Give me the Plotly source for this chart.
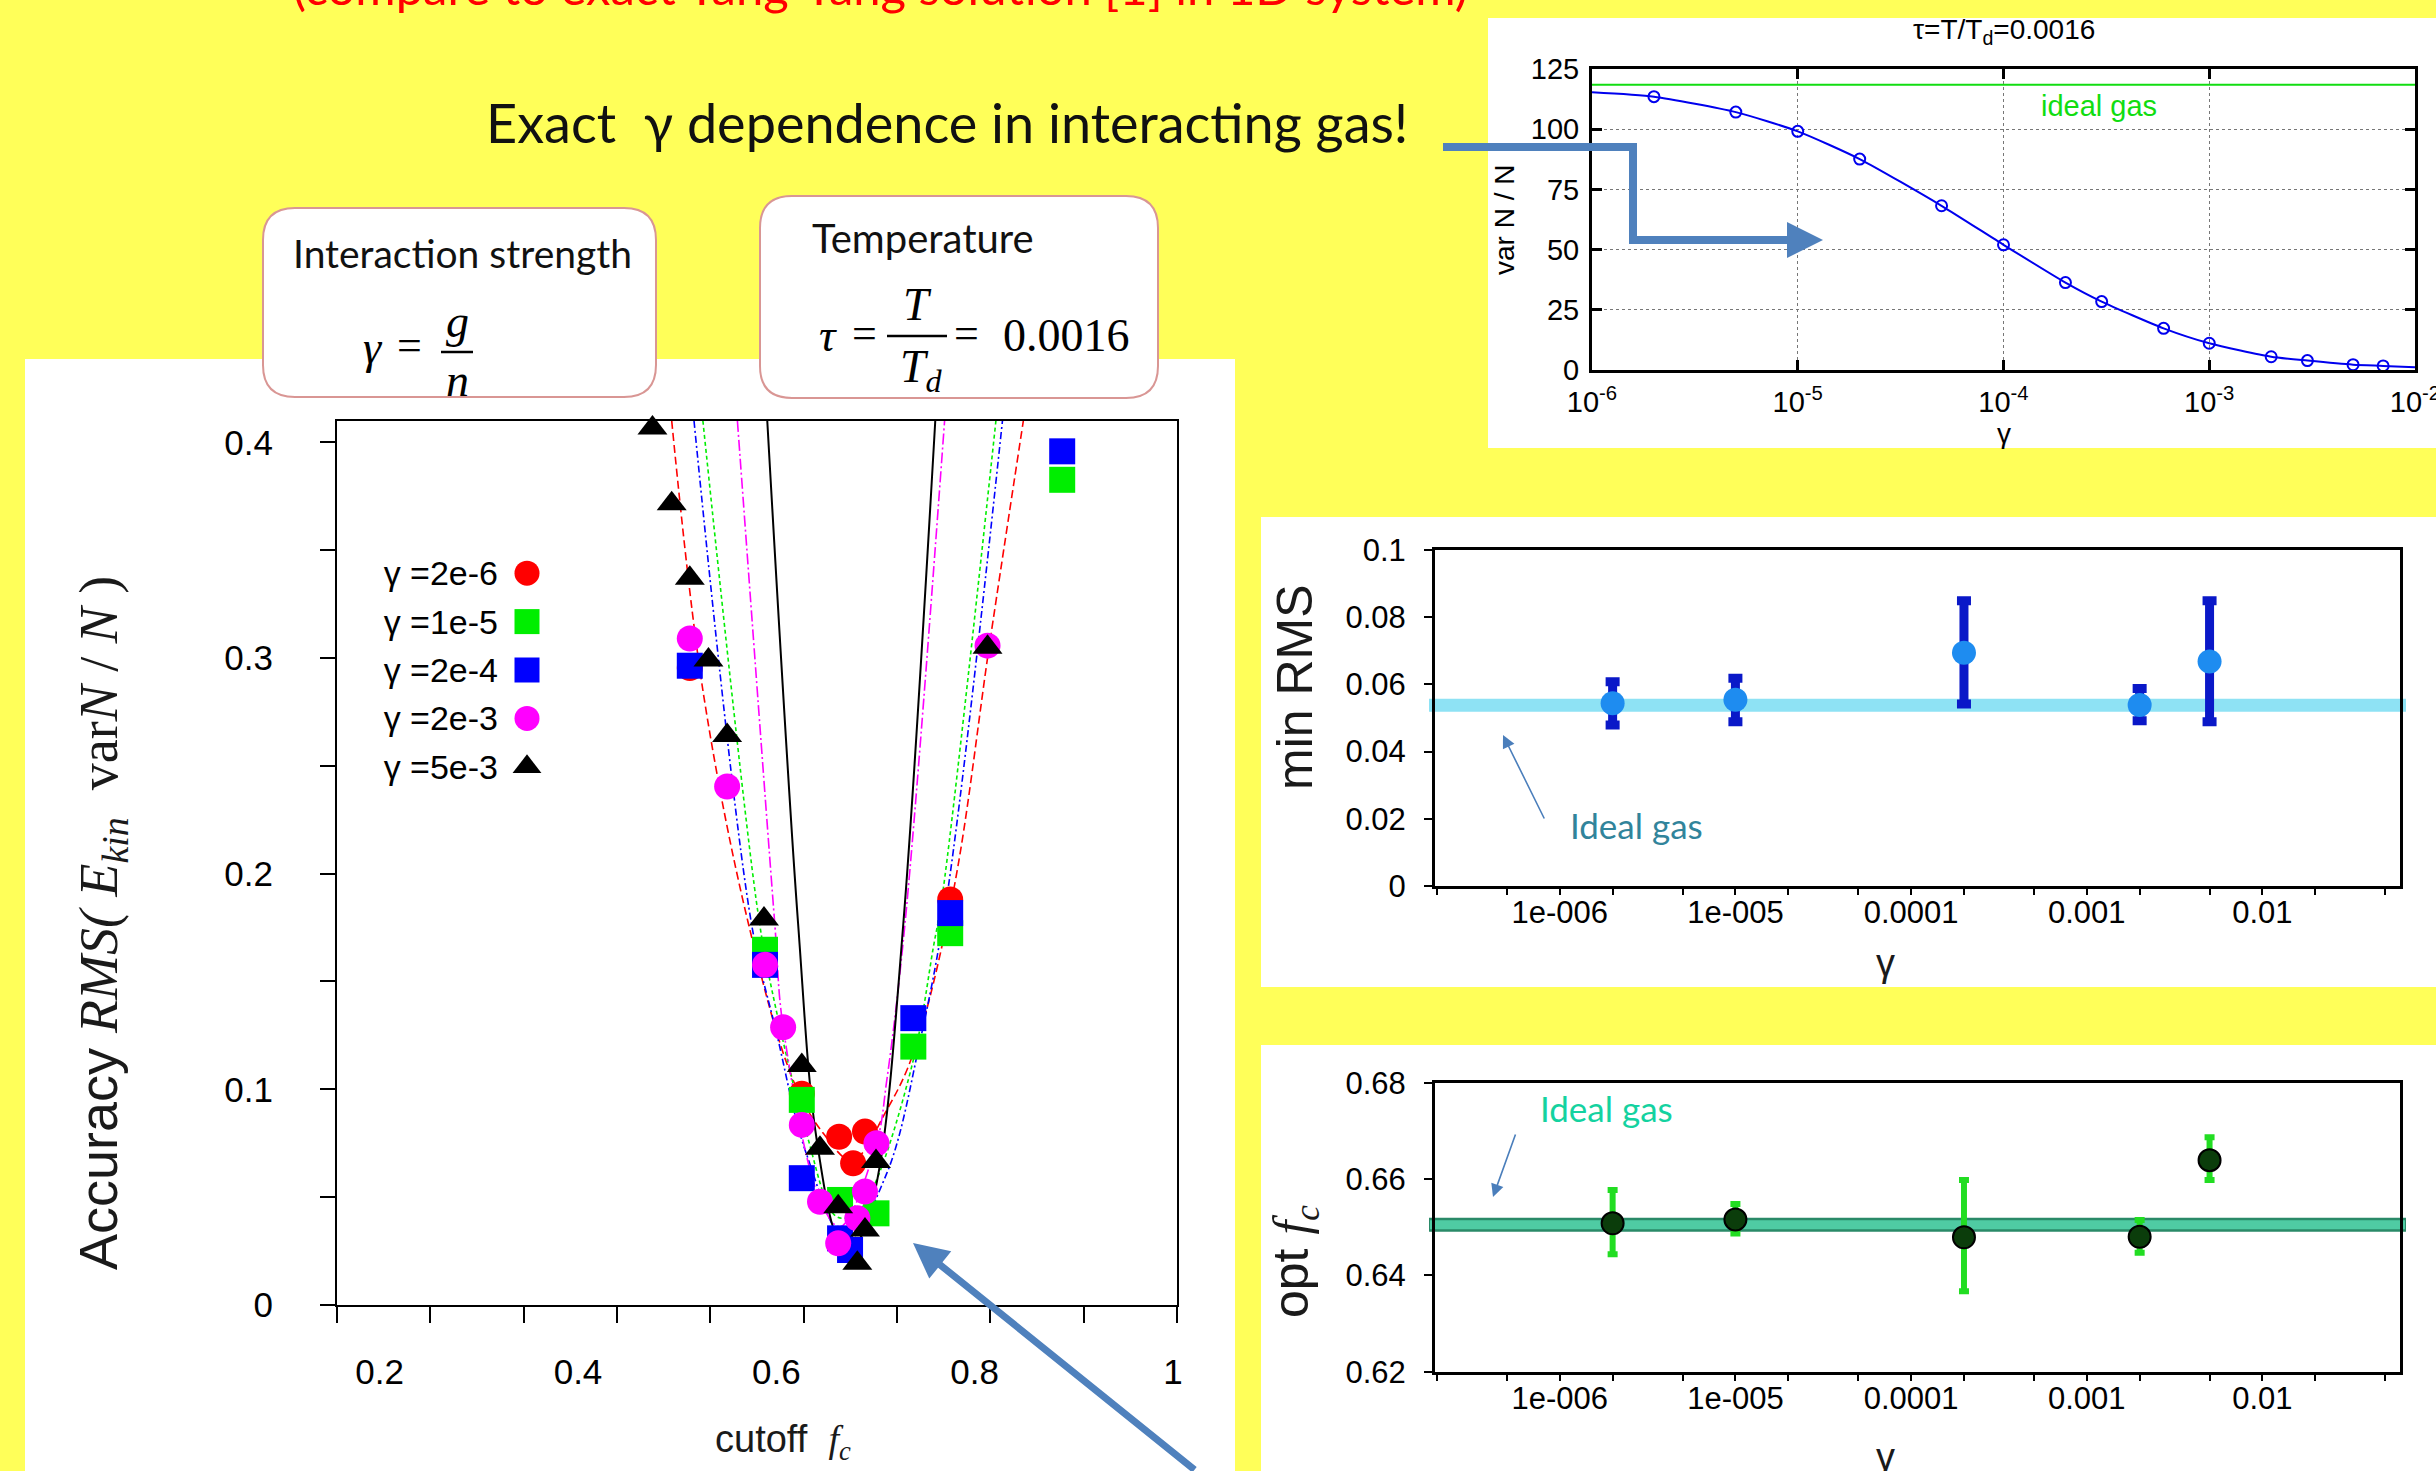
import plotly.graph_objects as go

W, H = 2436, 1471


def px(x):
    return x / W


def py(y):
    return 1 - y / H


# ---------------- data: main chart, accuracy vs cutoff f_c ----------------
series_names = ["γ =2e-6", "γ =1e-5", "γ =2e-4", "γ =2e-3", "γ =5e-3"]
series_colors = ["#FF0000", "#00EE00", "#0000FF", "#FF00FF", "#000000"]
series_symbols = ["circle", "square", "square", "circle", "triangle-up"]
series_dash = ["8px,4px", "4px,3px", "7px,3px,2px,3px", "11px,3px,2px,3px", "solid"]

pts_x_2e6 = [0.478, 0.598, 0.638, 0.6657, 0.653, 0.757]
pts_y_2e6 = [0.2953, 0.098, 0.078, 0.0804, 0.0657, 0.188]
pts_x_1e5 = [0.5586, 0.598, 0.639, 0.678, 0.7175, 0.757, 0.877]
pts_y_1e5 = [0.1647, 0.0951, 0.0487, 0.0425, 0.1198, 0.1724, 0.3826]
pts_x_2e4 = [0.478, 0.5586, 0.598, 0.639, 0.6497, 0.7175, 0.757, 0.877]
pts_y_2e4 = [0.2964, 0.1577, 0.0588, 0.0309, 0.0255, 0.133, 0.1817, 0.3958]
pts_x_2e3 = [0.478, 0.518, 0.5586, 0.578, 0.598, 0.6175, 0.637, 0.6575, 0.6657, 0.678, 0.797]
pts_y_2e3 = [0.309, 0.2404, 0.1577, 0.1288, 0.0835, 0.0479, 0.0286, 0.0402, 0.0526, 0.075, 0.3057]
pts_x_5e3 = [0.438, 0.4586, 0.478, 0.498, 0.518, 0.5575, 0.598, 0.6175, 0.637, 0.6575, 0.6657, 0.6775, 0.797]
pts_y_5e3 = [0.4066, 0.3715, 0.337, 0.299, 0.264, 0.179, 0.111, 0.0727, 0.0456, 0.0193, 0.0348, 0.0665, 0.305]

fit_x_2e6 = [0.4586, 0.4925, 0.5407, 0.589, 0.621, 0.652, 0.689, 0.7175, 0.760, 0.7997, 0.8354]
fit_y_2e6 = [0.41, 0.2837, 0.177, 0.104, 0.0796, 0.067, 0.0904, 0.1167, 0.191, 0.308, 0.41]
fit_x_1e5 = [0.492, 0.551, 0.566, 0.603, 0.635, 0.655, 0.675, 0.7175, 0.739, 0.748, 0.806]
fit_y_1e5 = [0.41, 0.182, 0.146, 0.0796, 0.041, 0.042, 0.055, 0.1136, 0.166, 0.188, 0.41]
fit_x_2e4 = [0.4825, 0.544, 0.571, 0.603, 0.646, 0.689, 0.725, 0.753, 0.813]
fit_y_2e4 = [0.41, 0.177, 0.126, 0.070, 0.030, 0.061, 0.123, 0.188, 0.41]
fit_x_2e3 = [0.529, 0.569, 0.578, 0.6175, 0.639, 0.678, 0.689, 0.7086, 0.751]
fit_y_2e3 = [0.41, 0.177, 0.129, 0.0487, 0.0363, 0.075, 0.104, 0.177, 0.41]
fit_x_5e3 = [0.561, 0.594, 0.614, 0.639, 0.6515, 0.665, 0.682, 0.7068, 0.741]
fit_y_5e3 = [0.41, 0.177, 0.0765, 0.0286, 0.0258, 0.035, 0.0657, 0.177, 0.41]

main_x_ticks = [0.1, 0.2, 0.3, 0.4, 0.5, 0.6, 0.7, 0.8, 0.9, 1.0]
main_x_labels = [0.2, 0.4, 0.6, 0.8, 1.0]
main_x_label_text = ["0.2", "0.4", "0.6", "0.8", "1"]
main_y_ticks = [0, 0.05, 0.1, 0.15, 0.2, 0.25, 0.3, 0.35, 0.4]
main_y_text = ["0", "", "0.1", "", "0.2", "", "0.3", "", "0.4"]

# ---------------- data: var N / N vs gamma ----------------
var_gamma = [1e-6, 2e-6, 5e-6, 1e-5, 2e-5, 5e-5, 1e-4, 2e-4, 3e-4, 6e-4, 1e-3, 2e-3, 3e-3, 5e-3, 7e-3, 1e-2]
var_value = [115.3, 113.5, 107.1, 99.1, 87.6, 68.2, 52.0, 36.3, 28.4, 17.3, 11.1, 5.5, 3.9, 2.2, 1.7, 1.1]
ideal_gas_var = 118.5
var_x_ticks = [1e-6, 1e-5, 1e-4, 1e-3, 1e-2]
var_x_text = ["10<sup>-6</sup>", "10<sup>-5</sup>", "10<sup>-4</sup>", "10<sup>-3</sup>", "10<sup>-2</sup>"]

# ---------------- data: min RMS and opt f_c vs gamma ----------------
gam = [2e-6, 1e-5, 2e-4, 2e-3, 5e-3]
min_rms = [0.0544, 0.0554, 0.0694, 0.0539, 0.0668]
min_rms_hi = [0.0608, 0.0618, 0.0849, 0.0588, 0.0849]
min_rms_lo = [0.0479, 0.0489, 0.0542, 0.0492, 0.0489]
ideal_min_rms = 0.0538

opt_fc = [0.6508, 0.6516, 0.6479, 0.6480, 0.6639]
opt_fc_hi = [0.6577, 0.6548, 0.6598, 0.6515, 0.6687]
opt_fc_lo = [0.6444, 0.6487, 0.6367, 0.6447, 0.6598]
ideal_opt_fc = 0.6505

log_ticks = [2e-7, 5e-7, 1e-6, 2e-6, 5e-6, 1e-5, 2e-5, 5e-5, 1e-4, 2e-4, 5e-4,
             1e-3, 2e-3, 5e-3, 1e-2, 2e-2, 5e-2]
log_text = ["", "", "1e-006", "", "", "1e-005", "", "", "0.0001", "", "",
            "0.001", "", "", "0.01", "", ""]

SANS = "Liberation Sans, Arial, sans-serif"
SERIF = "Liberation Serif, Times New Roman, serif"
SLIDE = "Lato, Open Sans, sans-serif"

fig = go.Figure()

# main chart fits and points
fits = [(fit_x_2e6, fit_y_2e6), (fit_x_1e5, fit_y_1e5), (fit_x_2e4, fit_y_2e4),
        (fit_x_2e3, fit_y_2e3), (fit_x_5e3, fit_y_5e3)]
pts = [(pts_x_2e6, pts_y_2e6), (pts_x_1e5, pts_y_1e5), (pts_x_2e4, pts_y_2e4),
       (pts_x_2e3, pts_y_2e3), (pts_x_5e3, pts_y_5e3)]
for i, (fx, fy) in enumerate(fits):
    fig.add_trace(go.Scatter(x=fx, y=fy, mode="lines", xaxis="x", yaxis="y",
                             line=dict(color=series_colors[i], width=1.6 if i < 4 else 2,
                                       dash=series_dash[i], shape="spline", smoothing=1.0),
                             showlegend=False, hoverinfo="skip"))
for i, (xx, yy) in enumerate(pts):
    fig.add_trace(go.Scatter(x=xx, y=yy, mode="markers", xaxis="x", yaxis="y",
                             marker=dict(color=series_colors[i], symbol=series_symbols[i],
                                         size=26, line=dict(width=0)),
                             cliponaxis=False, showlegend=False, name=series_names[i]))
# label-only axis of the main chart (its labels sit off the tick marks, as in the original)
fig.add_trace(go.Scatter(x=main_x_labels, y=[None] * len(main_x_labels), mode="markers",
                         xaxis="x2", yaxis="y", showlegend=False, hoverinfo="skip"))

# legend block (text left of symbol, as in the original)
for i, name in enumerate(series_names):
    fig.add_trace(go.Scatter(x=["key"], y=[name], mode="markers", xaxis="x6", yaxis="y6",
                             marker=dict(color=series_colors[i], symbol=series_symbols[i],
                                         size=25), showlegend=False, hoverinfo="skip"))

# var N / N vs gamma
fig.add_trace(go.Scatter(x=var_gamma, y=var_value, mode="lines", xaxis="x3", yaxis="y3",
                         line=dict(color="#0000EE", width=2, shape="spline", smoothing=0.6),
                         showlegend=False))
fig.add_trace(go.Scatter(x=var_gamma[1:], y=var_value[1:], mode="markers", xaxis="x3", yaxis="y3",
                         marker=dict(symbol="circle-open", size=11, color="#0000EE",
                                     line=dict(width=2, color="#0000EE")),
                         cliponaxis=False, showlegend=False))

# min RMS
fig.add_trace(go.Scatter(
    x=gam, y=min_rms, mode="markers", xaxis="x4", yaxis="y4", showlegend=False,
    marker=dict(color="#1E8CF0", size=24, line=dict(width=0)),
    error_y=dict(type="data", symmetric=False,
                 array=[h - v for h, v in zip(min_rms_hi, min_rms)],
                 arrayminus=[v - l for l, v in zip(min_rms_lo, min_rms)],
                 color="#0A18C8", thickness=9, width=7)))

# opt f_c
fig.add_trace(go.Scatter(
    x=gam, y=opt_fc, mode="markers", xaxis="x5", yaxis="y5", showlegend=False,
    marker=dict(color="#0B3D0B", size=22, line=dict(width=2, color="#000000")),
    error_y=dict(type="data", symmetric=False,
                 array=[h - v for h, v in zip(opt_fc_hi, opt_fc)],
                 arrayminus=[v - l for l, v in zip(opt_fc_lo, opt_fc)],
                 color="#22DD22", thickness=6, width=5)))


def rounded_box(x0, y0, x1, y1, r):
    pts_ = [("M", [(x0 + r, y0)]), ("L", [(x1 - r, y0)]), ("Q", [(x1, y0), (x1, y0 + r)]),
            ("L", [(x1, y1 - r)]), ("Q", [(x1, y1), (x1 - r, y1)]), ("L", [(x0 + r, y1)]),
            ("Q", [(x0, y1), (x0, y1 - r)]), ("L", [(x0, y0 + r)]), ("Q", [(x0, y0), (x0 + r, y0)])]
    s = ""
    for cmd, cs in pts_:
        s += cmd + " " + " ".join(f"{px(a):.5f},{py(b):.5f}" for a, b in cs) + " "
    return s + "Z"


shapes = []
# white panels
for (x0, y0, x1, y1) in [(25, 359, 1235, 1471), (1488, 18, 2436, 448),
                         (1261, 517, 2436, 987), (1261, 1045, 2436, 1471)]:
    shapes.append(dict(type="rect", xref="paper", yref="paper", x0=px(x0), x1=px(x1),
                       y0=py(y1), y1=py(y0), fillcolor="white", line=dict(width=0), layer="below"))
# rounded definition boxes
for (x0, y0, x1, y1) in [(263, 208, 656, 397), (760, 196, 1158, 398)]:
    shapes.append(dict(type="path", xref="paper", yref="paper", path=rounded_box(x0, y0, x1, y1, 32),
                       fillcolor="white", line=dict(color="#D99694", width=2), layer="below"))
# fraction bars
shapes.append(dict(type="line", xref="paper", yref="paper", x0=px(441), x1=px(473),
                   y0=py(352), y1=py(352), line=dict(color="black", width=2.5)))
shapes.append(dict(type="line", xref="paper", yref="paper", x0=px(887), x1=px(947),
                   y0=py(336), y1=py(336), line=dict(color="black", width=2.5)))
# ideal gas references
shapes.append(dict(type="line", xref="x3 domain", yref="y3", x0=0, x1=1,
                   y0=ideal_gas_var, y1=ideal_gas_var, line=dict(color="#11DD11", width=2)))
shapes.append(dict(type="line", xref="paper", yref="y4", x0=px(1429), x1=px(2406),
                   y0=ideal_min_rms, y1=ideal_min_rms, line=dict(color="#8EE2F4", width=13), layer="below"))
shapes.append(dict(type="line", xref="paper", yref="y5", x0=px(1429), x1=px(2406),
                   y0=ideal_opt_fc, y1=ideal_opt_fc, line=dict(color="#2A8A68", width=14), layer="below"))
shapes.append(dict(type="line", xref="paper", yref="y5", x0=px(1430), x1=px(2405),
                   y0=ideal_opt_fc, y1=ideal_opt_fc, line=dict(color="#4FCBA3", width=9), layer="below"))
# elbow arrow body
shapes.append(dict(type="path", xref="paper", yref="paper",
                   path=f"M {px(1443)},{py(147)} L {px(1633)},{py(147)} L {px(1633)},{py(244)}",
                   line=dict(color="#4F81BD", width=8)))

ann = []


def text(x, y, t, size, color="black", family=SANS, xanchor="center", yanchor="middle", angle=0, style="normal"):
    ann.append(dict(x=px(x), y=py(y), xref="paper", yref="paper", text=t, showarrow=False,
                    xanchor=xanchor, yanchor=yanchor, textangle=angle,
                    font=dict(size=size, color=color, family=family, style=style)))


def arrow(hx, hy, tx, ty, width, color, head=2, size=1.0):
    ann.append(dict(x=px(hx), y=py(hy), xref="paper", yref="paper", text="", showarrow=True,
                    ax=tx - hx, ay=ty - hy, arrowhead=head, arrowsize=size, arrowwidth=width,
                    arrowcolor=color, standoff=0, startstandoff=0))


text(880, -14, "(compare to exact Yang-Yang solution [1] in 1D system)", 49, "#FF0000", SLIDE)
text(947, 122, "Exact \u00a0γ dependence in interacting gas!", 54, "#111111", SLIDE)
text(462, 253, "Interaction strength", 39, "#111111", SLIDE)
text(923, 238, "Temperature", 40, "#111111", SLIDE)
text(373, 347, "γ", 46, "black", SERIF, style="italic")
text(409, 345, "=", 44, "black", SERIF)
text(457, 322, "g", 46, "black", SERIF, style="italic")
text(457, 380, "n", 46, "black", SERIF, style="italic")
text(828, 335, "τ", 46, "black", SERIF, style="italic")
text(864, 334, "=", 44, "black", SERIF)
text(917, 305, "T", 46, "black", SERIF, style="italic")
text(921, 370, "T<sub>d</sub>", 46, "black", SERIF, style="italic")
text(966, 334, "=", 44, "black", SERIF)
text(1066, 336, "0.0016", 46, "black", SERIF)

# top-right chart texts
text(2004, 32, "τ=T/T<sub>d</sub>=0.0016", 28, "black", SANS)
text(1504, 220, "var N / N", 28, "black", SANS, angle=-90)
text(2004, 433, "γ", 28, "black", SANS)
text(2099, 106, "ideal gas", 29, "#11DD11", SANS)

# main chart titles
text(102, 923, 'Accuracy <span style="font-family:Liberation Serif"><i>RMS( E<sub>kin</sub></i>'
               '  var<i>N</i> / <i>N</i> )</span>', 54, "#1a1a1a", SANS, angle=-90)
text(783, 1442, 'cutoff  <span style="font-family:Liberation Serif"><i>f<sub>c</sub></i></span>',
     38, "#1a1a1a", SANS)

# right charts titles
text(1295, 687, "min RMS", 50, "#1a1a1a", SANS, angle=-90)
text(1885, 963, "γ", 38, "#1a1a1a", SANS)
text(1636, 825, "Ideal gas", 35, "#31849B", SLIDE)
text(1295, 1262, 'opt <span style="font-family:Liberation Serif"><i>f<sub>c</sub></i></span>',
     50, "#1a1a1a", SANS, angle=-90)
text(1885, 1457, "γ", 38, "#1a1a1a", SANS)
text(1606, 1108, "Ideal gas", 35, "#14D2A0", SLIDE)

# arrows
arrow(1503, 735, 1545, 820, 1.6, "#4A7EBB", head=2, size=1.6)
arrow(1493, 1197, 1516, 1133, 1.6, "#4A7EBB", head=2, size=1.6)
arrow(913, 1243, 1196, 1480, 7, "#4F81BD", head=2, size=1.0)
arrow(1823, 240, 1630, 240, 8, "#4F81BD", head=2, size=0.9)

axis_common = dict(showgrid=False, zeroline=False, color="black", automargin=False)

layout = dict(
    width=W, height=H, margin=dict(l=0, r=0, t=0, b=0, pad=0, autoexpand=False),
    autosize=False,
    paper_bgcolor="#FFFF59", plot_bgcolor="rgba(0,0,0,0)",
    font=dict(family=SANS, color="black"),
    showlegend=False, shapes=shapes, annotations=ann,
    xaxis=dict(domain=[px(337), px(1177)], range=[0.1, 1.0], tickvals=main_x_ticks,
               showticklabels=False, ticks="outside", ticklen=16, tickwidth=2, tickcolor="black",
               showline=True, linecolor="black", linewidth=2, mirror=True, anchor="y", **axis_common),
    xaxis2=dict(overlaying="x", anchor="y", side="bottom", range=[0.157, 1.004],
                tickvals=main_x_labels, ticktext=main_x_label_text, ticks="", showline=False,
                tickfont=dict(size=35, color="black"), ticklabelstandoff=43, **axis_common),
    yaxis=dict(domain=[py(1305), py(420.7)], range=[0, 0.41], tickvals=main_y_ticks,
               ticktext=main_y_text, ticks="outside", ticklen=15, tickwidth=2, tickcolor="black",
               showline=True, linecolor="black", linewidth=2, mirror=True, anchor="x",
               tickfont=dict(size=35, color="black"), ticklabelstandoff=40, **axis_common),
    xaxis3=dict(domain=[px(1592), px(2415)], type="log", range=[-6, -2], tickvals=var_x_ticks,
                ticktext=var_x_text, ticks="inside", ticklen=10, tickwidth=3, tickcolor="black",
                showline=True, linecolor="black", linewidth=3, mirror="ticks", anchor="y3",
                showgrid=True, gridcolor="#777777", griddash="dot", gridwidth=1, zeroline=False,
                automargin=False, ticklabeloverflow="allow",
                tickfont=dict(size=29, color="black"), ticklabelstandoff=4),
    yaxis3=dict(domain=[py(370), py(69)], range=[0, 125], tickvals=[0, 25, 50, 75, 100, 125],
                ticks="inside", ticklen=10, tickwidth=3, tickcolor="black",
                showline=True, linecolor="black", linewidth=3, mirror="ticks", anchor="x3",
                showgrid=True, gridcolor="#777777", griddash="dot", gridwidth=1, zeroline=False,
                automargin=False, tickfont=dict(size=29, color="black"), ticklabelstandoff=4),
    xaxis4=dict(domain=[px(1435), px(2400)], type="log", range=[-6.71, -1.217], tickvals=log_ticks,
                ticktext=log_text, ticks="outside", ticklen=6, tickwidth=2, tickcolor="black",
                showline=True, linecolor="black", linewidth=3, mirror=True, anchor="y4",
                tickfont=dict(size=31, color="black"), ticklabelstandoff=-9, **axis_common),
    yaxis4=dict(domain=[py(886), py(550)], range=[0, 0.1], tick0=0, dtick=0.02,
                ticks="outside", ticklen=8, tickwidth=2, tickcolor="black",
                showline=True, linecolor="black", linewidth=3, mirror=True, anchor="x4",
                tickfont=dict(size=31, color="black"), ticklabelstandoff=12, **axis_common),
    xaxis5=dict(domain=[px(1435), px(2400)], type="log", range=[-6.71, -1.217], tickvals=log_ticks,
                ticktext=log_text, ticks="outside", ticklen=6, tickwidth=2, tickcolor="black",
                showline=True, linecolor="black", linewidth=3, mirror=True, anchor="y5",
                tickfont=dict(size=31, color="black"), ticklabelstandoff=-9, **axis_common),
    yaxis5=dict(domain=[py(1371.7), py(1082.7)], range=[0.62, 0.68], tick0=0.62, dtick=0.02,
                ticks="outside", ticklen=8, tickwidth=2, tickcolor="black",
                showline=True, linecolor="black", linewidth=3, mirror=True, anchor="x5",
                tickfont=dict(size=31, color="black"), ticklabelstandoff=12, **axis_common),
    xaxis6=dict(domain=[px(505), px(549)], type="category", range=[-0.5, 0.5], visible=False,
                anchor="y6", automargin=False),
    yaxis6=dict(domain=[py(791), py(549)], type="category", categoryorder="array",
                categoryarray=series_names, range=[4.5, -0.5], ticks="", showline=False,
                tickfont=dict(size=34, color="black"), anchor="x6", ticklabelstandoff=6,
                **axis_common),
)
fig.update_layout(**layout)
fig.write_html("out.html", config={"displayModeBar": False},
               post_script="document.body.style.margin='0px';document.body.style.overflow='hidden';")
